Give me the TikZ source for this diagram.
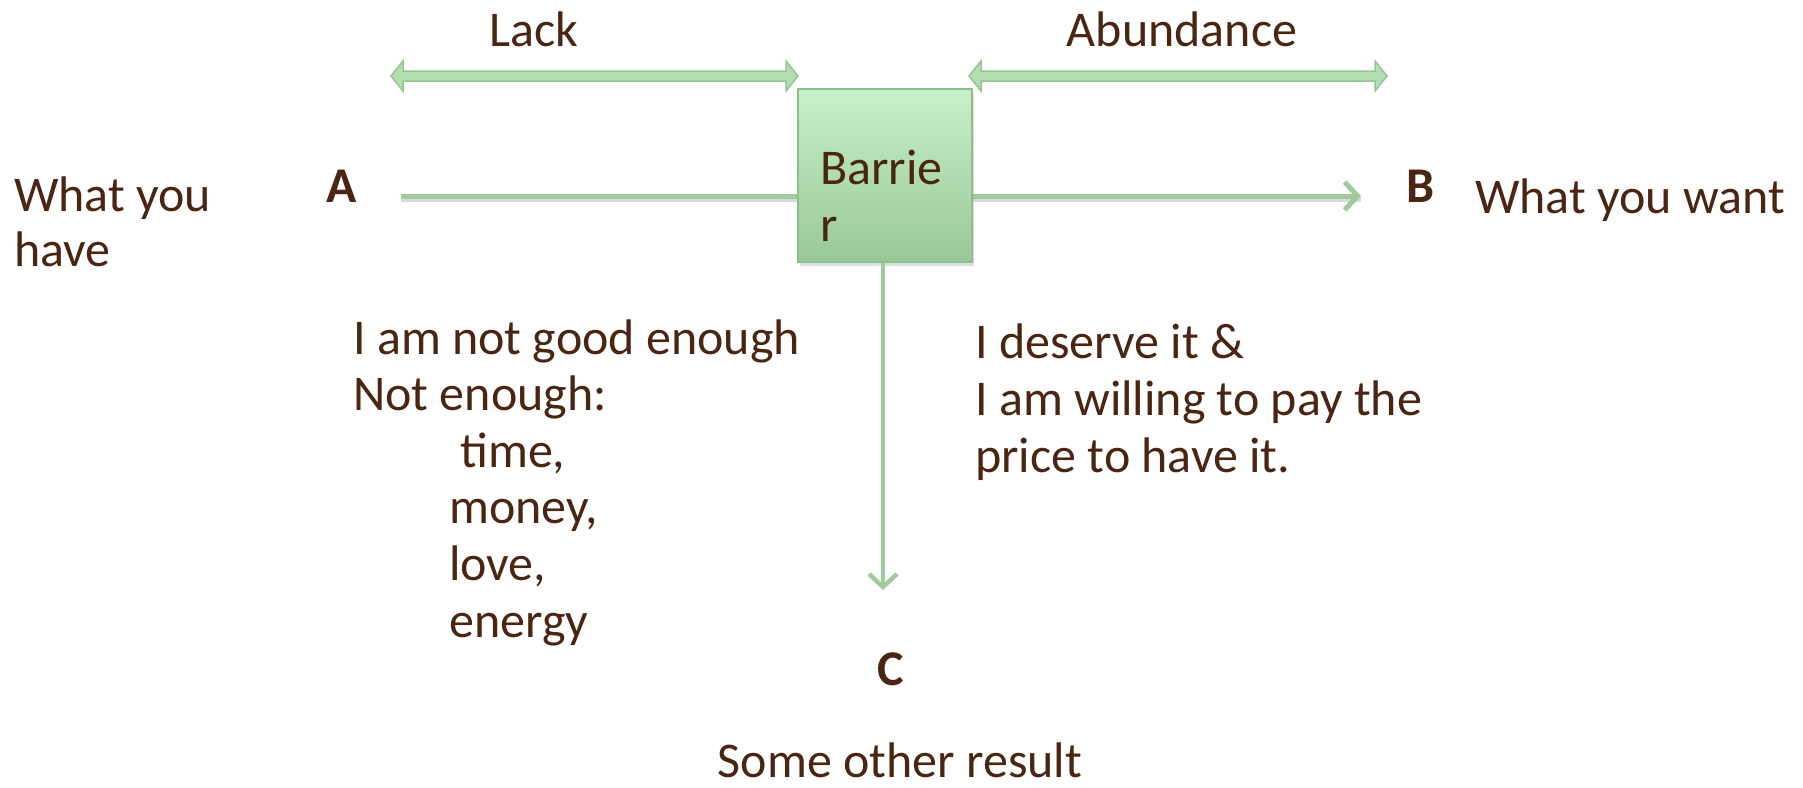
\documentclass[tikz,border=0pt]{standalone}
\usepackage{fontspec}
\setmainfont{Carlito}
\usetikzlibrary{arrows.meta,shadows}
\definecolor{txtbrown}{HTML}{4A2511}
\definecolor{lgreen}{HTML}{9FCB9D}
\definecolor{boxtop}{HTML}{C8F0C9}
\definecolor{boxbot}{HTML}{98C898}
\definecolor{boxedge}{HTML}{8FBE8D}
\definecolor{dafill}{HTML}{B4DDB2}
\definecolor{daedge}{HTML}{96C594}
\tikzset{
  txt/.style={text=txtbrown, font=\fontsize{50}{56.6}\selectfont, inner sep=0pt, align=left},
  letter/.style={text=txtbrown, font=\fontsize{50}{56.6}\selectfont\bfseries, inner sep=0pt},
  flow/.style={draw=lgreen, line width=5pt, -{Straight Barb[length=13pt,width=28pt,line width=5pt]}},
  flowthin/.style={draw=lgreen, line width=4.5pt, -{Straight Barb[length=13pt,width=28pt,line width=4.5pt]}},
  barrierbox/.style={draw=boxedge, line width=1.5pt, top color=boxtop, bottom color=boxbot,
     minimum width=174pt, minimum height=173pt, inner sep=0pt,
     drop shadow={opacity=0.25, shadow xshift=2pt, shadow yshift=-4pt}},
  dblarrow/.style={fill=dafill, draw=daedge, line width=1.5pt, line join=miter},
}
\newcommand\mydblarrow[3]{%
  \filldraw[dblarrow] (#1,#3) -- (#1+12,#3-15) -- (#1+12,#3-5) -- (#2-12,#3-5) -- (#2-12,#3-15)
    -- (#2,#3) -- (#2-12,#3+15) -- (#2-12,#3+5) -- (#1+12,#3+5) -- (#1+12,#3+15) -- cycle;}
\begin{document}
\begin{tikzpicture}[x=1pt,y=-1pt]
\useasboundingbox (0,0) rectangle (1803,787);
% labels
\node[txt, anchor=center] (lack) at (534,29) {Lack};
\node[txt, anchor=center] (abund) at (1182,29) {Abundance};
% double arrows
\mydblarrow{391}{798}{76}
\mydblarrow{969}{1387}{76}
% A, B, C
\node[letter] (A) at (342,186) {A};
\node[letter] (B) at (1420,186) {B};
\node[letter] (C) at (891,669) {C};
\coordinate (hstart) at (401,196);
\coordinate (hend) at (1361,196);
\coordinate (vend) at (883,590);
\draw[draw=black!15, line width=5pt] ([yshift=-3pt]hstart) -- ([yshift=-3pt]hend);
\draw[flow] (hstart) -- (hend);
% barrier box
\node[barrierbox] (bar) at (885,175.5) {};
\node[txt, anchor=base west] (barlabel) at (820,241) {Barrie\\r};
\draw[flowthin] (bar.south -| vend) -- (vend);
% side texts (base anchor = baseline of last line)
\node[txt, anchor=base west] (have) at (14,266) {What you\\[-1.6pt]have};
\node[txt, anchor=base west] (want) at (1475,213) {What you want};
\node[txt, anchor=base west] (lacktxt) at (353,637) {I am not good enough\\Not enough:\\\hspace*{107pt}time,\\\hspace*{96pt}money,\\\hspace*{96pt}love,\\\hspace*{96pt}energy};
\node[txt, anchor=base west] (abtxt) at (975,472) {I deserve it \&\\I am willing to pay the\\price to have it.};
\node[txt, anchor=center] (other) at (900,760) {Some other result};
\end{tikzpicture}
\end{document}
